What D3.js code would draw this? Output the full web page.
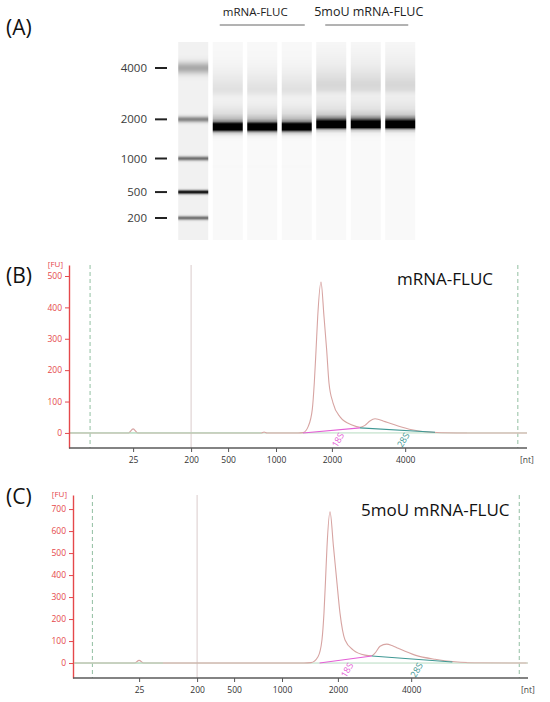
<!DOCTYPE html>
<html>
<head>
<meta charset="utf-8">
<script src="https://cdn.jsdelivr.net/npm/d3@7"></script>
<style>
  body { margin: 0; background: #fff; }
  text { font-family: 'Open Sans', sans-serif; }
</style>
</head>
<body>
<svg id="fig" width="550" height="702"></svg>
<script>
// ladder sizes (nt) and their migration times (s)
var ladderSizes = [25, 200, 500, 1000, 2000, 4000]
var ladderTimes = [26.0, 32.33, 36.37, 41.6, 47.7, 55.7]

// ladder bands shown on the gel (index 1..5 of the ladder)
var gelLadderAmp = [0.5, 0.88, 0.5, 0.42, 0.28]
var gelLadderSigma = [0.22, 0.22, 0.24, 0.32, 0.65]

var laneNames = ['ladder', 'a1', 'a2', 'a3', 'b1', 'b2', 'b3']
var groupNames = ['mRNA-FLUC', '5moU mRNA-FLUC']

// electropherogram (B) mRNA-FLUC : time (s) vs FU
var timeB = [19, 25.5, 26.0, 26.5, 40.0, 40.3, 40.6, 44.0, 44.55, 45.12, 45.56, 45.78, 45.97, 46.15, 46.51,
  46.84, 47.13, 47.38, 47.82, 48.59, 49.90, 50.77, 51.31, 51.85, 52.41, 53.50, 54.92, 56.45, 57.86, 61.36, 69]
var fuB = [0, 0, 13, 0, 0, 3, 0, 0, 1, 21, 75, 160, 264, 370, 481,
  370, 264, 160, 96, 51, 25, 18, 24, 38, 45, 36, 22, 10, 4, 0, 0]

// electropherogram (C) 5moU mRNA-FLUC
var timeC = [19, 25.5, 26.0, 26.5, 44.0, 44.76, 45.53, 45.96, 46.18, 46.35, 46.51, 46.84, 47.22, 47.57, 47.93,
  48.48, 49.38, 50.66, 51.39, 51.75, 52.30, 53.03, 53.60, 54.29, 56.12, 58.30, 60.48, 63.40, 68.3]
var fuC = [0, 0, 12, 0, 0, 2, 29, 105, 227, 377, 528, 688, 528, 377, 227,
  105, 59, 36, 33, 45, 76, 86, 80, 67, 36, 17, 6, 1, 0]

// 18S / 28S region baselines [time, FU]
var regionNames = ['18S', '28S']
var regionsB = [[[44.55, 0], [50.77, 16]], [[50.77, 16], [58.96, 2]]]
var regionsC = [[[45.7, 0], [51.4, 32]], [[51.4, 32], [60.2, 5]]]
var regionLabelB = [48.37, 55.5]
var regionLabelC = [48.7, 56.3]

// lower / upper marker times
var markersB = [21.3, 68.0]
var markersC = [20.9, 67.5]

var yTicksB = [0, 100, 200, 300, 400, 500]
var yTicksC = [0, 100, 200, 300, 400, 500, 600, 700]

var regionColors = ['#e45fd6', '#3f9894']
var traceColor = '#d7a4a2'
var baseColor = '#b7dbc0'
var markerColor = '#92bfa2'
var axisRed = '#e5484b'

var svg = d3.select('#fig')

function panelLabel (txt, x, y) {
  svg.append('text').attr('x', x).attr('y', y)
    .attr('font-size', 21).attr('fill', '#111').text(txt)
}

//---- (A) virtual gel ----
panelLabel('(A)', 6, 35)

var gel = svg.append('g')
var laneX = d3.scaleBand().domain(laneNames).range([176, 417.5])
  .paddingInner(0.13).paddingOuter(0.065)
var gelY = d3.scaleLinear().domain([ladderTimes[1], ladderTimes[5]]).range([218, 68])
var rows = d3.range(42, 240)

function grey (dk) {
  var v = Math.round(255 * (1 - Math.max(0, Math.min(1, dk))))
  return d3.rgb(v, v, v).toString()
}

// ladder lane
gel.append('g').selectAll('rect')
  .data(rows)
  .enter()
  .append('rect')
  .attr('x', laneX('ladder'))
  .attr('width', laneX.bandwidth())
  .attr('y', function (r) { return r })
  .attr('height', 1.05)
  .attr('fill', function (r) {
    var t = gelY.invert(r + 0.5)
      , dk = 0.055
    for (var i = 0; i < gelLadderAmp.length; i++) {
      var z = (t - ladderTimes[i + 1]) / gelLadderSigma[i]
      dk += gelLadderAmp[i] * Math.exp(-z * z / 2)
    }
    return grey(dk)
  })

// sample lanes from the electropherograms
var interpB = d3.scaleLinear().domain(timeB).range(fuB).clamp(true)
var interpC = d3.scaleLinear().domain(timeC).range(fuC).clamp(true)
var maxB = d3.max(fuB)
  , maxC = d3.max(fuC)

laneNames.slice(1).forEach(function (lane, li) {
  var f = li < 3 ? interpB : interpC
    , m = li < 3 ? maxB : maxC
  gel.append('g').selectAll('rect')
    .data(rows)
    .enter()
    .append('rect')
    .attr('x', laneX(lane))
    .attr('width', laneX.bandwidth())
    .attr('y', function (r) { return r })
    .attr('height', 1.05)
    .attr('fill', function (r) {
      var rel = f(gelY.invert(r + 0.5)) / m
      return grey(0.025 + Math.pow(Math.min(1, rel * 1.5), 1.2))
    })
})

// ladder size labels
var ladderG = gel.append('g')
ladderSizes.slice(1).forEach(function (s, i) {
  var yy = gelY(ladderTimes[i + 1])
  ladderG.append('text')
    .attr('x', 147).attr('y', yy + 4)
    .attr('text-anchor', 'end')
    .attr('font-family', 'DejaVu Sans')
    .attr('font-size', 11.5)
    .attr('fill', '#3a3a3a')
    .text(s)
  ladderG.append('line')
    .attr('x1', 155).attr('x2', 167)
    .attr('y1', yy).attr('y2', yy)
    .attr('stroke', '#222').attr('stroke-width', 2)
})

// group labels over lanes
var groups = [laneNames.slice(1, 4), laneNames.slice(4, 7)]
groups.forEach(function (lanes, gi) {
  var x0 = laneX(lanes[0])
    , x1 = laneX(lanes[2]) + laneX.bandwidth()
    , cx = (x0 + x1) / 2
  gel.append('text')
    .attr('x', cx - (gi ? -3 : 7)).attr('y', 16)
    .attr('text-anchor', 'middle')
    .attr('font-size', gi ? 12.5 : 11.5)
    .attr('fill', '#222')
    .text(groupNames[gi])
  gel.append('line')
    .attr('x1', x0 + (gi ? 9 : 7)).attr('x2', x1 - 7)
    .attr('y1', 25).attr('y2', 25)
    .attr('stroke', '#666').attr('stroke-width', 1)
})

//---- (B), (C) electropherograms ----
function electro (cfg) {
  var g = svg.append('g')
  var x = d3.scaleLinear().domain([19, 69]).range(cfg.xRange)
  var y = d3.scaleLinear().domain(cfg.yDomain).range([cfg.bottom, cfg.top])

  // marker lines
  g.selectAll('.marker')
    .data(cfg.markers)
    .enter()
    .append('line')
    .attr('class', 'marker')
    .attr('x1', function (d) { return x(d) })
    .attr('x2', function (d) { return x(d) })
    .attr('y1', cfg.top).attr('y2', cfg.bottom)
    .attr('stroke', markerColor)
    .attr('stroke-dasharray', '4,3')

  // 200 nt guide
  g.append('line')
    .attr('x1', x(ladderTimes[1])).attr('x2', x(ladderTimes[1]))
    .attr('y1', cfg.top).attr('y2', cfg.bottom)
    .attr('stroke', '#dacccc')

  // zero baseline
  g.append('line')
    .attr('x1', cfg.axisX).attr('x2', cfg.axisEnd)
    .attr('y1', y(0)).attr('y2', y(0))
    .attr('stroke', baseColor)

  // trace
  var line = d3.line()
    .x(function (d) { return x(d[0]) })
    .y(function (d) { return y(d[1]) })
    .curve(d3.curveMonotoneX)

  g.append('path')
    .datum(d3.zip(cfg.time, cfg.fu))
    .attr('d', line)
    .attr('fill', 'none')
    .attr('stroke', traceColor)
    .attr('stroke-width', 1.1)

  // baseline drawn over the early flat part
  g.append('line')
    .attr('x1', cfg.axisX).attr('x2', x(cfg.flatUntil))
    .attr('y1', y(0)).attr('y2', y(0))
    .attr('stroke', baseColor)
  g.append('line')
    .attr('x1', x(cfg.time[cfg.time.length - 1]) - 60).attr('x2', cfg.axisEnd)
    .attr('y1', y(0)).attr('y2', y(0))
    .attr('stroke', '#d9d3c8')

  // 18S / 28S regions
  var seg = d3.line()
    .x(function (d) { return x(d[0]) })
    .y(function (d) { return y(d[1]) })
  cfg.regions.forEach(function (r, i) {
    g.append('path')
      .attr('d', seg(r))
      .attr('fill', 'none')
      .attr('stroke', regionColors[i])
      .attr('stroke-width', 1.1)
    var lx = x(cfg.regionLabels[i])
      , ly = y(0) + 7
    g.append('text')
      .attr('transform', 'translate(' + lx + ',' + ly + ') rotate(-60)')
      .attr('text-anchor', 'middle')
      .attr('dy', '0.35em')
      .attr('font-size', 9)
      .attr('fill', regionColors[i])
      .text(regionNames[i])
  })

  // y axis
  var yAxis = d3.axisLeft(y).tickValues(cfg.yTicks).tickSize(4).tickSizeOuter(0)
  var ya = g.append('g')
    .attr('transform', 'translate(' + cfg.axisX + ',0)')
    .call(yAxis)
  ya.select('.domain').attr('stroke', axisRed).attr('stroke-width', 1.4)
  ya.selectAll('.tick line').attr('stroke', axisRed)
  ya.selectAll('.tick text')
    .attr('fill', axisRed)
    .attr('font-size', 8.5)
    .attr('font-family', 'Open Sans')

  g.append('text')
    .attr('x', cfg.axisX - 6).attr('y', cfg.top + 2)
    .attr('text-anchor', 'end')
    .attr('font-size', 8)
    .attr('fill', axisRed)
    .text('[FU]')

  // x axis
  var xAxis = d3.axisBottom(x)
    .tickValues(ladderTimes)
    .tickFormat(function (d, i) { return ladderSizes[i] })
    .tickSize(4).tickSizeOuter(0).tickPadding(5)
  var xa = g.append('g')
    .attr('transform', 'translate(0,' + cfg.bottom + ')')
    .call(xAxis)
  xa.select('.domain').remove()
  xa.selectAll('.tick line').attr('stroke', '#555')
  xa.selectAll('.tick text')
    .attr('fill', '#333')
    .attr('font-size', 8.5)
    .attr('font-family', 'Open Sans')
  g.append('line')
    .attr('x1', cfg.axisX).attr('x2', cfg.axisEnd)
    .attr('y1', cfg.bottom).attr('y2', cfg.bottom)
    .attr('stroke', '#5a5a5a').attr('stroke-width', 1.3)
  g.append('text')
    .attr('x', cfg.axisEnd).attr('y', cfg.bottom + 15)
    .attr('text-anchor', 'middle')
    .attr('font-size', 8.5)
    .attr('fill', '#444')
    .text('[nt]')

  // sample title
  g.append('text')
    .attr('x', cfg.titleX).attr('y', cfg.titleY)
    .attr('font-size', 17)
    .attr('fill', '#111')
    .text(cfg.title)
}

panelLabel('(B)', 6, 283)
electro({
  title: groupNames[0], titleX: 397, titleY: 285,
  time: timeB, fu: fuB, flatUntil: 40.0,
  regions: regionsB, regionLabels: regionLabelB, markers: markersB,
  yTicks: yTicksB, yDomain: [-48, 535],
  top: 265, bottom: 448, axisX: 69, axisEnd: 527, xRange: [69, 527]
})

panelLabel('(C)', 6, 504)
electro({
  title: groupNames[1], titleX: 361, titleY: 516,
  time: timeC, fu: fuC, flatUntil: 28.6,
  regions: regionsC, regionLabels: regionLabelC, markers: markersC,
  yTicks: yTicksC, yDomain: [-68, 764],
  top: 495, bottom: 678, axisX: 73, axisEnd: 528, xRange: [75, 533]
})
</script>
</body>
</html>
